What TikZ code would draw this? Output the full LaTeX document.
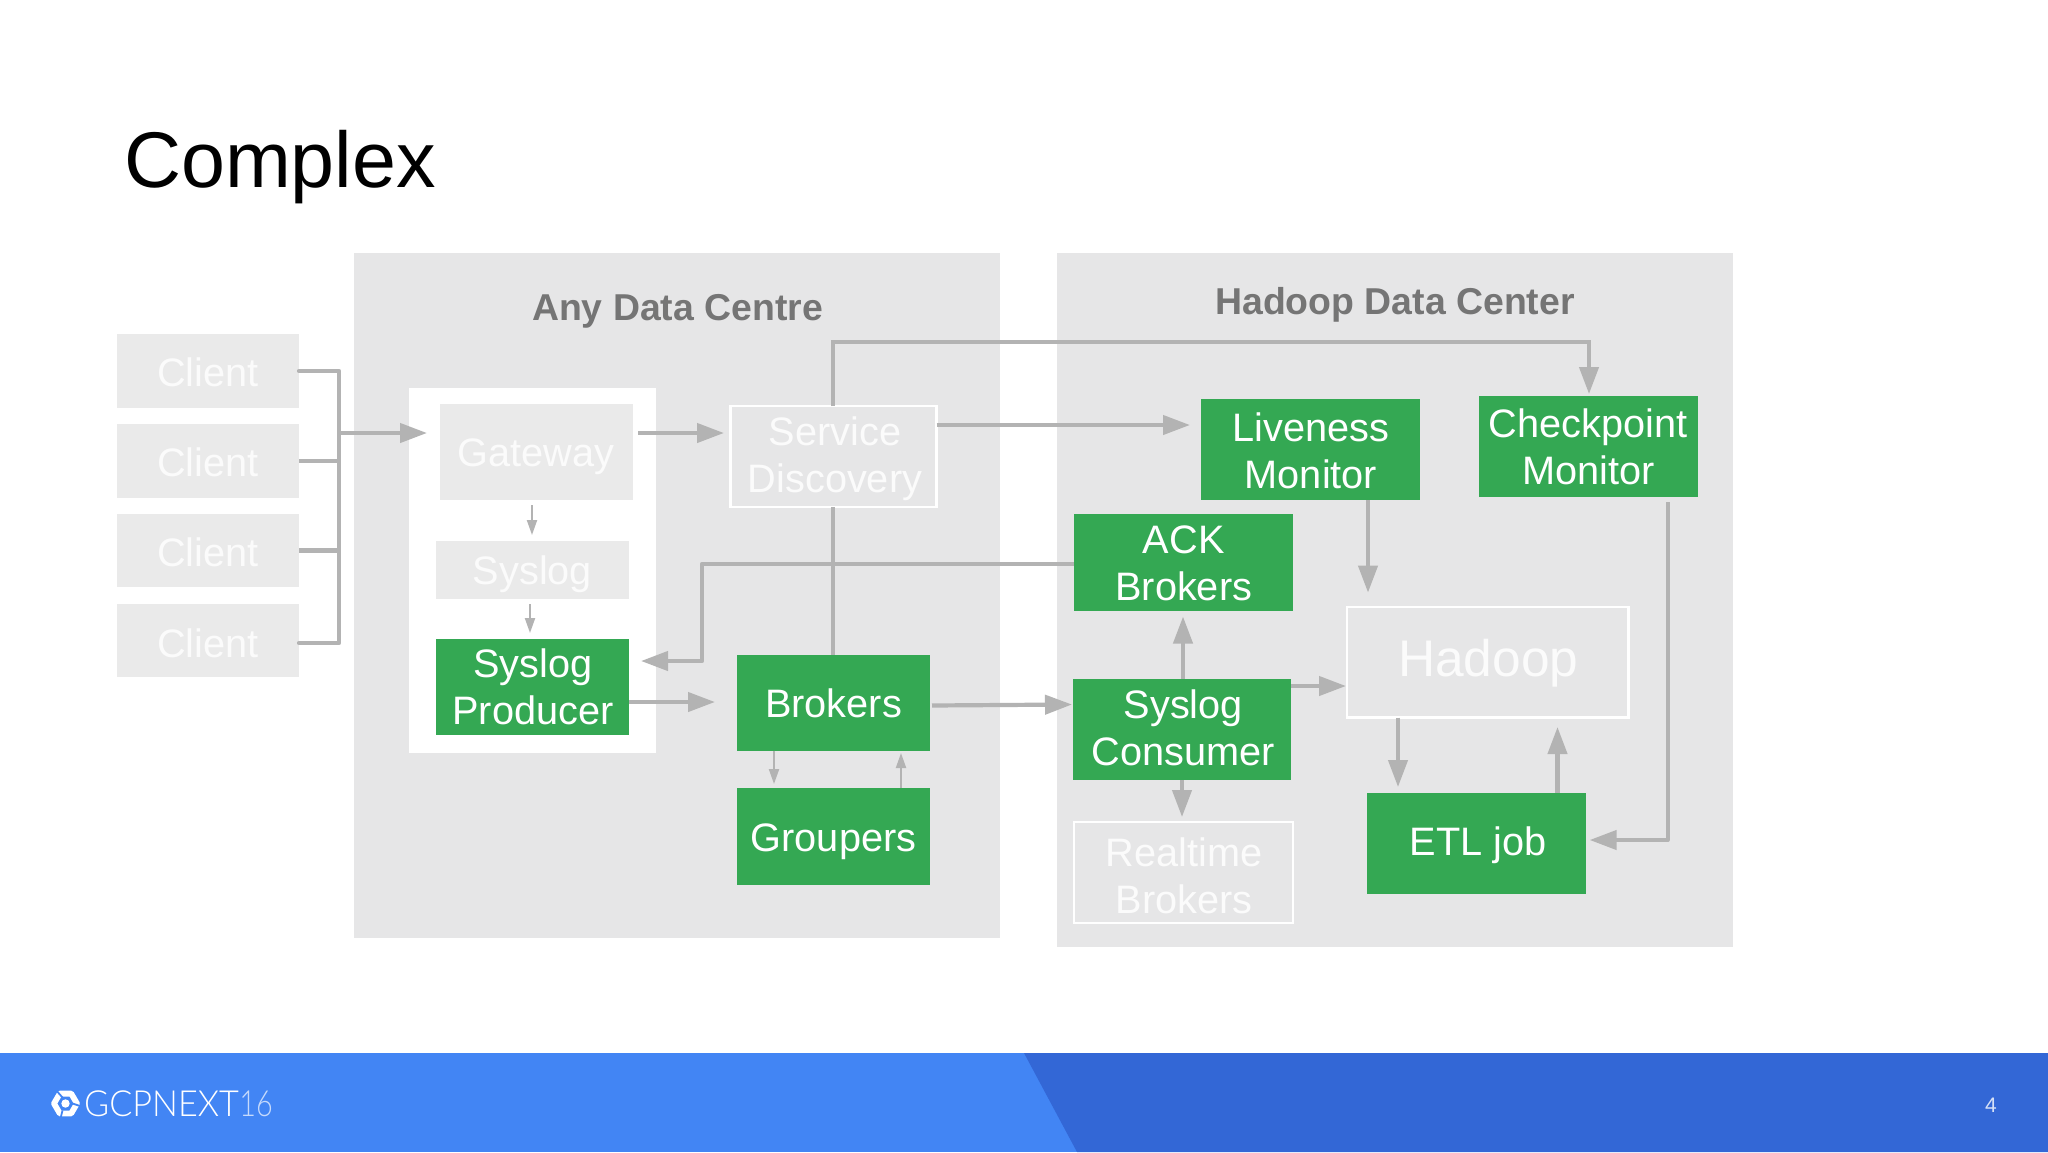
\documentclass[tikz,border=0pt]{standalone}
\usepackage{fontspec}
\setmainfont{Liberation Sans}
\newfontfamily\brandfont{Lato Light}[FakeStretch=0.95]
\newfontfamily\yearfont{Lato Light}[FakeStretch=0.8]
\usetikzlibrary{arrows.meta,calc}
\definecolor{panel}{HTML}{E6E6E7}
\definecolor{clientgray}{HTML}{EAEAEA}
\definecolor{gbox}{HTML}{34A853}
\definecolor{arrowgray}{HTML}{B3B3B3}
\definecolor{softwhite}{HTML}{FBFBFB}
\definecolor{titlegray}{HTML}{757575}
\definecolor{bluea}{HTML}{4285F4}
\definecolor{blueb}{HTML}{3367D6}
\tikzset{
  x=1pt,y=-1pt,
  lbl/.style={align=center,inner sep=0pt,outer sep=0pt,font=\fontsize{39.7}{47}\selectfont},
  green box/.style={lbl,fill=gbox,text=white},
  gray box/.style={lbl,fill=clientgray,text=softwhite},
  outline box/.style={lbl,draw=white,line width=2.5pt,fill=panel,text=softwhite},
  panelbox/.style={inner sep=0pt,outer sep=0pt},
  wire/.style={draw=arrowgray,line width=4.2pt},
  arr/.style={wire,-{Triangle[length=27pt,width=19pt]}},
  thin arr/.style={draw=arrowgray,line width=2pt,-{Triangle[length=15pt,width=10pt]}},
  heading/.style={inner sep=0pt,text=titlegray,font=\fontsize{37.4}{44}\selectfont\bfseries},
}
% name, x1, y1, x2, y2, style, text
\newcommand{\bx}[7]{\node[#6,minimum width={(#4-#2)*1pt},minimum height={(#5-#3)*1pt}] (#1) at ({(#2+#4)/2},{(#3+#5)/2}) {#7};}
% move a line of text: right by half of #1 (it stays centred), down by #2
\newcommand{\mv}[3]{\hspace*{#1pt}\raisebox{-#2pt}[\height][\depth]{#3}}
\begin{document}
\begin{tikzpicture}
\useasboundingbox (0,0) rectangle (2048,1152);
\fill[white] (0,0) rectangle (2048,1152);
% footer
\fill[bluea] (0,1053) rectangle (2048,1152);
\fill[blueb] (1024,1053) -- (2048,1053) -- (2048,1152) -- (1077,1152) -- cycle;
% panels
\bx{anydc}{353.5}{253}{999.5}{938}{panelbox,fill=panel}{}
\bx{hadoopdc}{1056.5}{253}{1733}{947}{panelbox,fill=panel}{}
\bx{whitepanel}{409}{388}{655.5}{753}{panelbox,fill=white}{}
% title and headings
\node[anchor=base west,inner sep=0pt,font=\fontsize{79}{90}\selectfont] (title) at (124,187) {Complex};
\node[heading,anchor=base] (anyhead) at (677.5,320) {Any Data Centre};
\node[heading,anchor=base] (hadoophead) at (1395,314) {Hadoop Data Center};
% clients
\bx{c1}{117}{334}{299}{408}{gray box}{\mv{0}{1.5}{Client}}
\bx{c2}{117}{424}{299}{498}{gray box}{\mv{0}{1.5}{Client}}
\bx{c3}{117}{514}{299}{587}{gray box}{\mv{0}{1.5}{Client}}
\bx{c4}{117}{604}{299}{677}{gray box}{\mv{0}{2.5}{Client}}
% any data centre
\bx{gateway}{439.5}{404}{632.5}{500}{gray box}{\mv{0}{5}{Gateway}}
\bx{syslog}{436}{541}{629}{599}{gray box}{\mv{0}{4.5}{Syslog}}
\bx{producer}{436}{638.5}{629}{734.5}{green box}{\mv{1}{0}{Syslog}\\\mv{1}{0}{Producer}}
\bx{service}{730.5}{406}{936.5}{507}{outline box}{\mv{3}{2.6}{Service}\\\mv{3}{2.6}{Discovery}}
\bx{brokers}{737}{655}{930}{750.5}{green box}{\mv{0}{0.5}{Brokers}}
\bx{groupers}{737}{788}{930}{884.5}{green box}{\mv{0}{5}{Groupers}}
% hadoop data center
\bx{liveness}{1201}{399}{1420}{500}{green box}{\mv{1}{1.3}{Liveness}\\\mv{1}{1.3}{Monitor}}
\bx{checkpoint}{1479}{396}{1697.5}{497}{green box}{\mv{0}{0}{Checkpoint}\\\mv{0}{0}{Monitor}}
\bx{ack}{1074}{514}{1292.5}{610.5}{green box}{\mv{1}{1.3}{ACK}\\\mv{1}{1.3}{Brokers}}
\bx{consumer}{1072.6}{679}{1291}{780}{green box}{\mv{3}{-1.3}{Syslog}\\\mv{3}{-1.3}{Consumer}}
\bx{realtime}{1074}{822}{1293}{923}{outline box}{\mv{1}{3.6}{Realtime}\\\mv{1}{3.6}{Brokers}}
\bx{hadoop}{1347}{607}{1628.6}{717.5}{outline box,font=\fontsize{51.5}{58}\selectfont}{\mv{1}{1}{Hadoop}}
\bx{etl}{1367}{793}{1586}{894}{green box}{\mv{3}{1.5}{ETL job}}
% free points of the connectors
\coordinate (bus1) at (339,371);
\coordinate (bus4) at (339,643);
\coordinate (busout) at (339,433);
\coordinate (gwin) at (427,433);
\coordinate (gwout) at (638,433);
\coordinate (svcin) at (724,433);
\coordinate (topleft) at (833,342);
\coordinate (topright) at (1589,342);
\coordinate (ackbendA) at (702,564);
\coordinate (ackbendB) at (702,661);
\coordinate (etlbend) at (1667.6,840);
% client bus
\draw[wire,line cap=round,line join=round] (c1.east |- bus1) -- (bus1) -- (bus4) -- (c4.east |- bus4);
\draw[wire] (c2.east) -- (c2.east -| bus1);
\draw[wire] (c3.east) -- (c3.east -| bus1);
\draw[arr] (busout) -- (gwin);
% any data centre connectors
\draw[arr] (gwout) -- (svcin);
\draw[thin arr] (532,505) -- (532,535);
\draw[thin arr] (530,604) -- (530,633);
\draw[wire] (service.north -| topleft) -- (topleft) -- (topright) -- ++(0,10);
\draw[arr] (1589,350) -- (1589,394);
\draw[wire] (service.south -| topleft) -- (brokers.north -| topleft);
\draw[wire,line join=round] (ack.west |- ackbendA) -- (ackbendA) -- (ackbendB) -- ++(-20,0);
\draw[arr] (690,661) -- (641,661);
\draw[arr] (producer.east |- 0,702) -- (715,702);
\draw[thin arr] (brokers.south -| 774,0) -- (774,784);
\draw[thin arr] (groupers.north -| 901,0) -- (901,753);
\draw[arr] (932,705.5) -- (1072,704.5);
% hadoop connectors
\draw[arr] (service.east |- 0,425) -- (1190,425);
\draw[arr] (liveness.south -| 1368,0) -- (1368,592.6);
\draw[wire,line join=round] (1667.6,502) -- (etlbend) -- (1630,840);
\draw[arr] (1640,840) -- (1589.6,840);
\draw[arr] (consumer.north -| 1183,0) -- (1183,616.5);
\draw[arr] (consumer.east |- 0,686) -- (1346,686);
\draw[arr] (consumer.south -| 1182,0) -- (1182,817);
\draw[arr] (hadoop.south -| 1398,0) -- (1398,787);
\draw[arr] (etl.north -| 1557.5,0) -- (1557.5,727);
% footer content
\begin{scope}[shift={(65.5,1103.5)}]
  \draw[white,line width=5.8pt,line join=round] (-11.5,0) -- (-5.7,-9.9) -- (5.7,-9.9) -- (11.5,0) -- (5.7,9.9) -- (-5.7,9.9) -- cycle;
  \fill[white] (0,0) circle (4.2);
  \draw[bluea,line width=1.8pt] (-3,-6) -- (-10,-14);
  \draw[bluea,line width=1.8pt] (7,0) -- (16,3);
  \draw[bluea,line width=1.8pt] (-3,7) -- (-5,15);
\end{scope}
\node[anchor=base west,inner sep=0pt,text=white,font=\fontsize{36}{40}\brandfont] (brand) at (84,1116) {GCPNEXT};
\node[anchor=base west,inner sep=0pt,text=white!70!bluea,font=\fontsize{36}{40}\yearfont] (year) at (brand.base east) {16};
\node[anchor=center,inner sep=0pt,text=white!80!blueb,font=\fontsize{21}{24}\selectfont] (pagenum) at (1991,1105) {4};
\end{tikzpicture}
\end{document}
